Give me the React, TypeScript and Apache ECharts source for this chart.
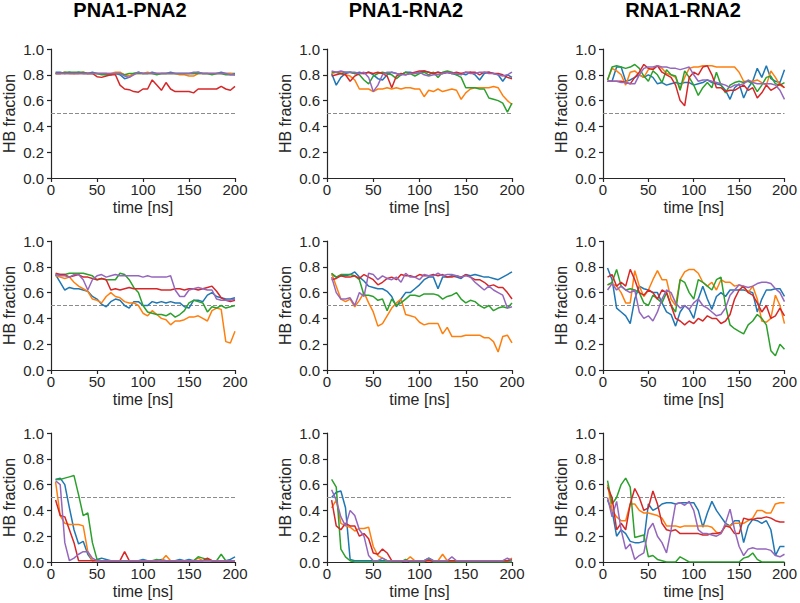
import React, { useEffect, useRef } from "react";
import * as echarts from "echarts";

// ---------- data ----------
const TIME = [5, 10, 15, 20, 25, 30, 35, 40, 45, 50, 55, 60, 65, 70, 75, 80, 85, 90, 95, 100,
  105, 110, 115, 120, 125, 130, 135, 140, 145, 150, 155, 160, 165, 170, 175, 180, 185, 190, 195, 200];
const COLUMN_TITLES = ["PNA1-PNA2", "PNA1-RNA2", "RNA1-RNA2"];
const SERIES_COLORS = ["#1f77b4", "#ff7f0e", "#2ca02c", "#d62728", "#9467bd"];
const X_LABEL = "time [ns]";
const Y_LABEL = "HB fraction";
const THRESHOLD = 0.5;

// Row 1
const a1Blue = [.82,.82,.81,.82,.81,.82,.81,.81,.82,.81, .81,.81,.80,.81,.80,.77,.78,.81,.82,.81, .81,.82,.81,.81,.81,.82,.81,.81,.81,.81, .81,.82,.81,.81,.81,.81,.82,.81,.81,.81];
const a1Orange = [.81,.81,.82,.81,.81,.81,.82,.81,.81,.81, .81,.81,.81,.82,.82,.80,.79,.81,.81,.81, .82,.81,.81,.81,.81,.81,.81,.80,.80,.79, .79,.81,.81,.81,.81,.81,.81,.81,.81,.80];
const a1Green = [.81,.81,.82,.82,.82,.82,.82,.81,.81,.81, .80,.80,.80,.81,.81,.80,.81,.81,.81,.81, .81,.81,.80,.81,.81,.81,.81,.81,.81,.81, .81,.81,.81,.81,.80,.81,.81,.80,.80,.80];
const a1Red = [.81,.81,.81,.81,.81,.81,.81,.81,.81,.785, .78,.79,.80,.80,.72,.69,.685,.67,.665,.69, .69,.76,.72,.68,.74,.69,.67,.67,.67,.67, .66,.69,.69,.69,.69,.69,.71,.69,.68,.71];
const a1Purple = [.81,.81,.81,.81,.81,.81,.81,.81,.81,.81, .81,.81,.81,.81,.81,.79,.78,.80,.82,.81, .81,.81,.81,.81,.81,.81,.81,.81,.81,.81, .82,.82,.81,.81,.81,.81,.81,.81,.80,.80];

const a2Blue = [.81,.72,.78,.81,.82,.81,.82,.81,.82,.80, .77,.76,.80,.82,.81,.80,.82,.82,.81,.82, .83,.82,.81,.82,.81,.82,.81,.80,.81,.80, .82,.80,.76,.81,.82,.81,.80,.75,.80,.78];
const a2Orange = [.81,.82,.81,.80,.79,.76,.69,.69,.69,.67, .69,.69,.70,.69,.70,.69,.70,.70,.69,.69, .63,.68,.67,.69,.67,.68,.69,.68,.61,.66, .69,.70,.70,.70,.70,.71,.70,.64,.60,.57];
const a2Green = [.82,.82,.81,.82,.82,.81,.80,.76,.73,.79, .81,.82,.81,.80,.77,.80,.82,.81,.79,.81, .82,.80,.82,.78,.82,.83,.82,.80,.78,.70, .70,.70,.69,.69,.62,.61,.60,.58,.51,.58];
const a2Red = [.79,.80,.81,.80,.75,.79,.81,.81,.82,.81, .82,.81,.79,.70,.79,.81,.80,.81,.82,.83, .83,.82,.81,.82,.81,.82,.81,.82,.81,.82, .82,.82,.80,.82,.82,.81,.81,.80,.78,.77];
const a2Purple = [.83,.82,.83,.82,.82,.82,.81,.82,.78,.67, .72,.80,.82,.82,.81,.80,.80,.81,.81,.82, .80,.79,.80,.80,.81,.82,.81,.81,.80,.82, .81,.81,.82,.82,.81,.81,.80,.79,.80,.82];

const a3Blue = [.75,.75,.86,.86,.75,.76,.78,.80,.78,.80, .78,.73,.74,.72,.73,.74,.73,.74,.74,.72, .73,.74,.76,.74,.73,.72,.68,.61,.70,.73, .62,.70,.75,.85,.78,.87,.77,.75,.74,.84];
const a3Orange = [.76,.85,.83,.80,.72,.82,.83,.80,.78,.84, .85,.87,.85,.81,.80,.78,.69,.78,.85,.86, .86,.87,.87,.87,.86,.86,.86,.86,.86,.82, .75,.75,.75,.76,.74,.72,.83,.78,.72,.70];
const a3Green = [.76,.86,.87,.86,.85,.86,.88,.85,.79,.75, .83,.80,.74,.84,.80,.79,.68,.83,.78,.72, .64,.70,.74,.70,.82,.72,.66,.72,.74,.75, .74,.75,.73,.67,.72,.78,.79,.73,.72,.74];
const a3Red = [.75,.75,.75,.75,.74,.73,.78,.82,.88,.85, .84,.87,.82,.80,.78,.72,.60,.56,.78,.82, .80,.86,.87,.80,.70,.70,.67,.68,.68,.70, .72,.68,.70,.62,.66,.72,.68,.70,.73,.70];
const a3Purple = [.75,.75,.75,.74,.74,.73,.73,.80,.85,.86, .86,.87,.86,.86,.85,.85,.84,.85,.86,.80, .75,.76,.76,.75,.74,.73,.72,.70,.72,.72, .73,.76,.74,.73,.73,.73,.73,.72,.68,.61];

// Row 2
const b1Blue = [.74,.68,.62,.64,.63,.63,.62,.61,.57,.55, .51,.49,.53,.55,.54,.50,.48,.53,.53,.50, .50,.53,.52,.53,.52,.53,.52,.52,.49,.48, .54,.54,.53,.58,.60,.57,.56,.55,.55,.56];
const b1Orange = [.73,.72,.71,.72,.68,.65,.63,.61,.55,.54, .52,.57,.60,.57,.56,.53,.52,.52,.50,.44, .42,.46,.43,.40,.39,.35,.38,.38,.39,.41, .41,.42,.40,.38,.46,.48,.47,.22,.21,.30];
const b1Green = [.74,.74,.74,.75,.75,.75,.75,.74,.73,.70, .71,.70,.70,.70,.75,.74,.70,.64,.60,.50, .45,.44,.43,.43,.42,.44,.41,.43,.46,.52, .54,.53,.52,.45,.49,.48,.50,.48,.49,.50];
const b1Red = [.75,.74,.74,.72,.73,.74,.72,.72,.71,.70, .71,.70,.62,.63,.62,.63,.64,.63,.63,.63, .63,.63,.63,.62,.62,.62,.63,.63,.62,.63, .63,.62,.63,.64,.65,.61,.56,.54,.53,.54];
const b1Purple = [.74,.73,.73,.72,.74,.74,.70,.62,.70,.73, .74,.72,.73,.74,.73,.73,.73,.73,.73,.72, .73,.72,.72,.72,.72,.73,.62,.57,.57,.62, .63,.64,.63,.62,.62,.55,.54,.54,.54,.55];

const b2Blue = [.74,.72,.73,.73,.74,.76,.72,.69,.65,.64, .63,.63,.61,.57,.49,.55,.60,.60,.63,.66, .70,.72,.72,.63,.72,.72,.73,.72,.71,.74, .73,.74,.73,.72,.72,.71,.70,.72,.74,.76];
const b2Orange = [.75,.65,.55,.53,.55,.49,.54,.60,.52,.45, .34,.36,.42,.48,.52,.55,.43,.42,.41,.37, .35,.36,.36,.36,.28,.33,.26,.26,.26,.27, .27,.27,.27,.25,.25,.22,.14,.26,.27,.21];
const b2Green = [.75,.72,.74,.74,.74,.73,.70,.58,.58,.57, .54,.55,.46,.55,.50,.52,.55,.58,.58,.57, .59,.59,.59,.58,.55,.57,.58,.60,.55,.52, .54,.53,.50,.48,.50,.46,.48,.49,.48,.52];
const b2Red = [.70,.71,.73,.72,.72,.73,.71,.74,.72,.70, .66,.68,.71,.72,.70,.74,.73,.73,.72,.74, .73,.73,.74,.73,.74,.72,.72,.73,.72,.74, .72,.70,.70,.68,.65,.66,.64,.64,.60,.55];
const b2Purple = [.72,.60,.55,.55,.56,.50,.60,.57,.75,.74, .70,.73,.71,.70,.72,.68,.75,.72,.72,.70, .74,.73,.73,.75,.73,.74,.74,.73,.72,.73, .72,.68,.65,.62,.65,.62,.60,.58,.48,.49];

const b3Blue = [.79,.70,.48,.45,.42,.36,.55,.65,.63,.62, .60,.60,.52,.45,.43,.34,.45,.50,.47,.40, .55,.65,.55,.47,.57,.60,.57,.62,.62,.62, .62,.61,.60,.45,.55,.62,.62,.63,.63,.57];
const b3Orange = [.66,.67,.65,.60,.52,.52,.77,.65,.57,.62, .70,.77,.70,.70,.55,.50,.70,.76,.78,.78, .75,.68,.65,.68,.62,.70,.68,.68,.65,.66, .64,.60,.65,.55,.38,.37,.40,.58,.50,.36];
const b3Green = [.66,.68,.78,.65,.62,.63,.62,.60,.52,.50, .58,.55,.52,.60,.50,.45,.70,.68,.60,.55, .70,.68,.65,.62,.70,.72,.50,.35,.32,.30, .28,.35,.38,.43,.40,.35,.15,.11,.20,.16];
const b3Red = [.72,.74,.65,.68,.65,.78,.70,.60,.58,.62, .60,.55,.62,.60,.50,.40,.38,.35,.38,.36, .40,.38,.42,.40,.40,.36,.38,.43,.55,.62, .65,.60,.58,.52,.45,.50,.40,.42,.48,.42];
const b3Purple = [.62,.67,.62,.65,.62,.60,.62,.45,.40,.42, .38,.45,.55,.62,.60,.52,.48,.50,.47,.52, .55,.50,.48,.45,.42,.43,.48,.58,.62,.66, .65,.64,.65,.67,.68,.68,.67,.63,.60,.53];

// Row 3
const c1Blue = [.64,.65,.60,.42,.25,.14,.16,.06,.01,.02, .03,.02,.01,.01,.01,.01,.01,.01,.01,.02, .01,.01,.01,.02,.01,.01,.01,.02,.01,.02, .01,.01,.01,.01,.01,.01,.01,.01,.02,.04];
const c1Orange = [.62,.36,.30,.29,.29,.29,.28,.08,.01,.01, .01,.01,.01,.01,.01,.01,.01,.01,.01,.01, .01,.01,.01,.01,.05,.01,.01,.01,.01,.01, .01,.03,.01,.01,.01,.01,.01,.01,.01,.01];
const c1Green = [.64,.64,.65,.66,.67,.52,.36,.38,.15,.02, .01,.01,.01,.01,.01,.01,.01,.01,.01,.01, .01,.01,.02,.01,.01,.01,.01,.01,.01,.01, .01,.04,.03,.02,.01,.01,.06,.01,.01,.01];
const c1Red = [.48,.36,.35,.25,.15,.01,.01,.01,.01,.01, .01,.01,.01,.01,.01,.08,.01,.01,.01,.01, .01,.01,.01,.01,.01,.01,.01,.01,.01,.01, .01,.01,.01,.03,.01,.01,.01,.01,.01,.01];
const c1Purple = [.63,.60,.15,.01,.03,.06,.08,.08,.03,.01, .01,.01,.01,.01,.01,.01,.01,.01,.01,.01, .01,.01,.01,.01,.01,.01,.01,.01,.01,.01, .01,.01,.01,.01,.01,.01,.01,.01,.01,.01];

const c2Blue = [.50,.54,.55,.42,.02,.01,.01,.01,.01,.01, .01,.01,.01,.01,.01,.01,.01,.01,.01,.01, .01,.03,.01,.01,.01,.01,.01,.01,.01,.01, .01,.01,.01,.01,.01,.01,.01,.01,.01,.01];
const c2Orange = [.42,.48,.30,.28,.27,.24,.26,.26,.27,.12, .05,.03,.01,.01,.01,.01,.01,.04,.01,.01, .01,.01,.01,.01,.06,.01,.01,.01,.01,.01, .01,.01,.01,.01,.01,.01,.01,.01,.01,.03];
const c2Green = [.64,.58,.10,.04,.01,.00,.00,.00,.00,.00, .00,.00,.00,.00,.00,.00,.02,.00,.00,.00, .00,.02,.00,.00,.00,.00,.00,.00,.00,.00, .00,.00,.00,.00,.00,.00,.00,.00,.00,.00];
const c2Red = [.48,.28,.25,.30,.28,.28,.20,.22,.18,.07, .06,.10,.07,.01,.01,.01,.01,.01,.01,.01, .01,.01,.01,.01,.01,.01,.01,.01,.01,.01, .01,.01,.01,.01,.01,.01,.01,.01,.01,.02];
const c2Purple = [.56,.48,.35,.28,.40,.36,.25,.20,.05,.01, .01,.03,.01,.01,.01,.01,.01,.01,.01,.01, .01,.03,.01,.01,.01,.01,.04,.01,.01,.01, .01,.01,.01,.01,.01,.01,.01,.01,.03,.01];

const c3Blue = [.48,.40,.20,.25,.22,.16,.15,.15,.16,.45, .40,.42,.45,.46,.46,.45,.46,.46,.46,.46, .40,.27,.38,.47,.40,.35,.30,.28,.32,.32, .15,.28,.33,.32,.30,.32,.25,.05,.12,.12];
const c3Orange = [.60,.40,.35,.32,.32,.45,.45,.40,.38,.38, .37,.36,.34,.28,.28,.28,.27,.28,.28,.28, .28,.28,.28,.27,.23,.22,.28,.28,.30,.30, .30,.32,.34,.40,.40,.38,.38,.45,.46,.46];
const c3Green = [.63,.45,.50,.60,.65,.58,.19,.20,.21,.04, .05,.02,.01,.00,.00,.00,.04,.02,.00,.00, .00,.00,.00,.00,.00,.00,.00,.00,.00,.00, .03,.04,.07,.02,.00,.00,.00,.00,.00,.00];
const c3Red = [.58,.50,.25,.30,.25,.45,.57,.50,.40,.42, .55,.45,.30,.25,.24,.25,.22,.22,.22,.22, .22,.21,.21,.22,.22,.23,.28,.27,.22,.22, .34,.33,.33,.34,.34,.35,.34,.32,.31,.31];
const c3Purple = [.50,.35,.47,.25,.10,.14,.02,.05,.07,.25, .30,.20,.15,.07,.25,.45,.46,.44,.47,.40, .25,.22,.22,.21,.20,.22,.30,.41,.25,.12, .05,.10,.11,.10,.10,.10,.09,.05,.04,.06];

const PANELS = [
  [a1Blue, a1Orange, a1Green, a1Red, a1Purple],
  [a2Blue, a2Orange, a2Green, a2Red, a2Purple],
  [a3Blue, a3Orange, a3Green, a3Red, a3Purple],
  [b1Blue, b1Orange, b1Green, b1Red, b1Purple],
  [b2Blue, b2Orange, b2Green, b2Red, b2Purple],
  [b3Blue, b3Orange, b3Green, b3Red, b3Purple],
  [c1Blue, c1Orange, c1Green, c1Red, c1Purple],
  [c2Blue, c2Orange, c2Green, c2Red, c2Purple],
  [c3Blue, c3Orange, c3Green, c3Red, c3Purple],
];

// ---------- layout ----------
const GRID_LEFT = [50, 327, 603];
const GRID_TOP = [49, 241, 433];
const GRID_W = 185;
const GRID_H = 129;
const TITLE_X = [130, 406, 683];
const FONT = "'Liberation Sans', Arial, Helvetica, sans-serif";
const INK = "#262626";

function buildOption() {
  const grids: any[] = [];
  const xAxes: any[] = [];
  const yAxes: any[] = [];
  const series: any[] = [];
  PANELS.forEach((panel, i) => {
    const r = Math.floor(i / 3);
    const c = i % 3;
    grids.push({ left: GRID_LEFT[c], top: GRID_TOP[r], width: GRID_W, height: GRID_H, containLabel: false });
    const axisCommon = {
      gridIndex: i,
      axisLine: { show: true, onZero: false, lineStyle: { color: INK, width: 1.2 } },
      axisTick: { show: true, inside: false, length: 4, lineStyle: { color: INK, width: 1.2 } },
      splitLine: { show: false },
      nameLocation: "middle",
      nameTextStyle: { fontSize: 16, color: INK, fontFamily: FONT, fontWeight: 400 },
    };
    xAxes.push({
      ...axisCommon,
      type: "value",
      min: 0,
      max: 200,
      interval: 50,
      name: X_LABEL,
      nameGap: 21,
      axisLabel: { fontSize: 15, color: INK, margin: 4, fontFamily: FONT, fontWeight: 400 },
    });
    yAxes.push({
      ...axisCommon,
      type: "value",
      min: 0,
      max: 1,
      interval: 0.2,
      name: Y_LABEL,
      nameGap: 34,
      axisLabel: { fontSize: 15, color: INK, margin: 7, fontFamily: FONT, fontWeight: 400, formatter: (v: number) => v.toFixed(1) },
    });
    panel.forEach((vals, k) => {
      const s: any = {
        type: "line",
        xAxisIndex: i,
        yAxisIndex: i,
        data: vals.map((v, j) => [TIME[j], v]),
        showSymbol: false,
        symbol: "none",
        lineStyle: { color: SERIES_COLORS[k], width: 1.5 },
        itemStyle: { color: SERIES_COLORS[k] },
        z: 2 + k,
        silent: true,
      };
      if (k === 0) {
        s.markLine = {
          silent: true,
          symbol: ["none", "none"],
          label: { show: false },
          lineStyle: { color: "#8c8c8c", type: [4, 2], width: 1 },
          data: [{ yAxis: THRESHOLD }],
          z: 1,
        };
      }
      series.push(s);
    });
  });
  return {
    animation: false,
    backgroundColor: "#ffffff",
    textStyle: { fontFamily: FONT },
    title: COLUMN_TITLES.map((t, c) => ({
      text: t,
      left: TITLE_X[c],
      top: 0,
      padding: 0,
      textAlign: "center",
      textStyle: { fontSize: 20, fontWeight: "bold", color: "#000", fontFamily: FONT },
    })),
    grid: grids,
    xAxis: xAxes,
    yAxis: yAxes,
    series,
  };
}

export default function App() {
  const ref = useRef<HTMLDivElement>(null);
  useEffect(() => {
    document.body.style.margin = "0";
    const chart = echarts.init(ref.current!, undefined, { renderer: "svg" });
    chart.setOption(buildOption() as any);
    return () => chart.dispose();
  }, []);
  return <div ref={ref} style={{ width: 800, height: 603, position: "absolute", left: 0, top: 0 }} />;
}
